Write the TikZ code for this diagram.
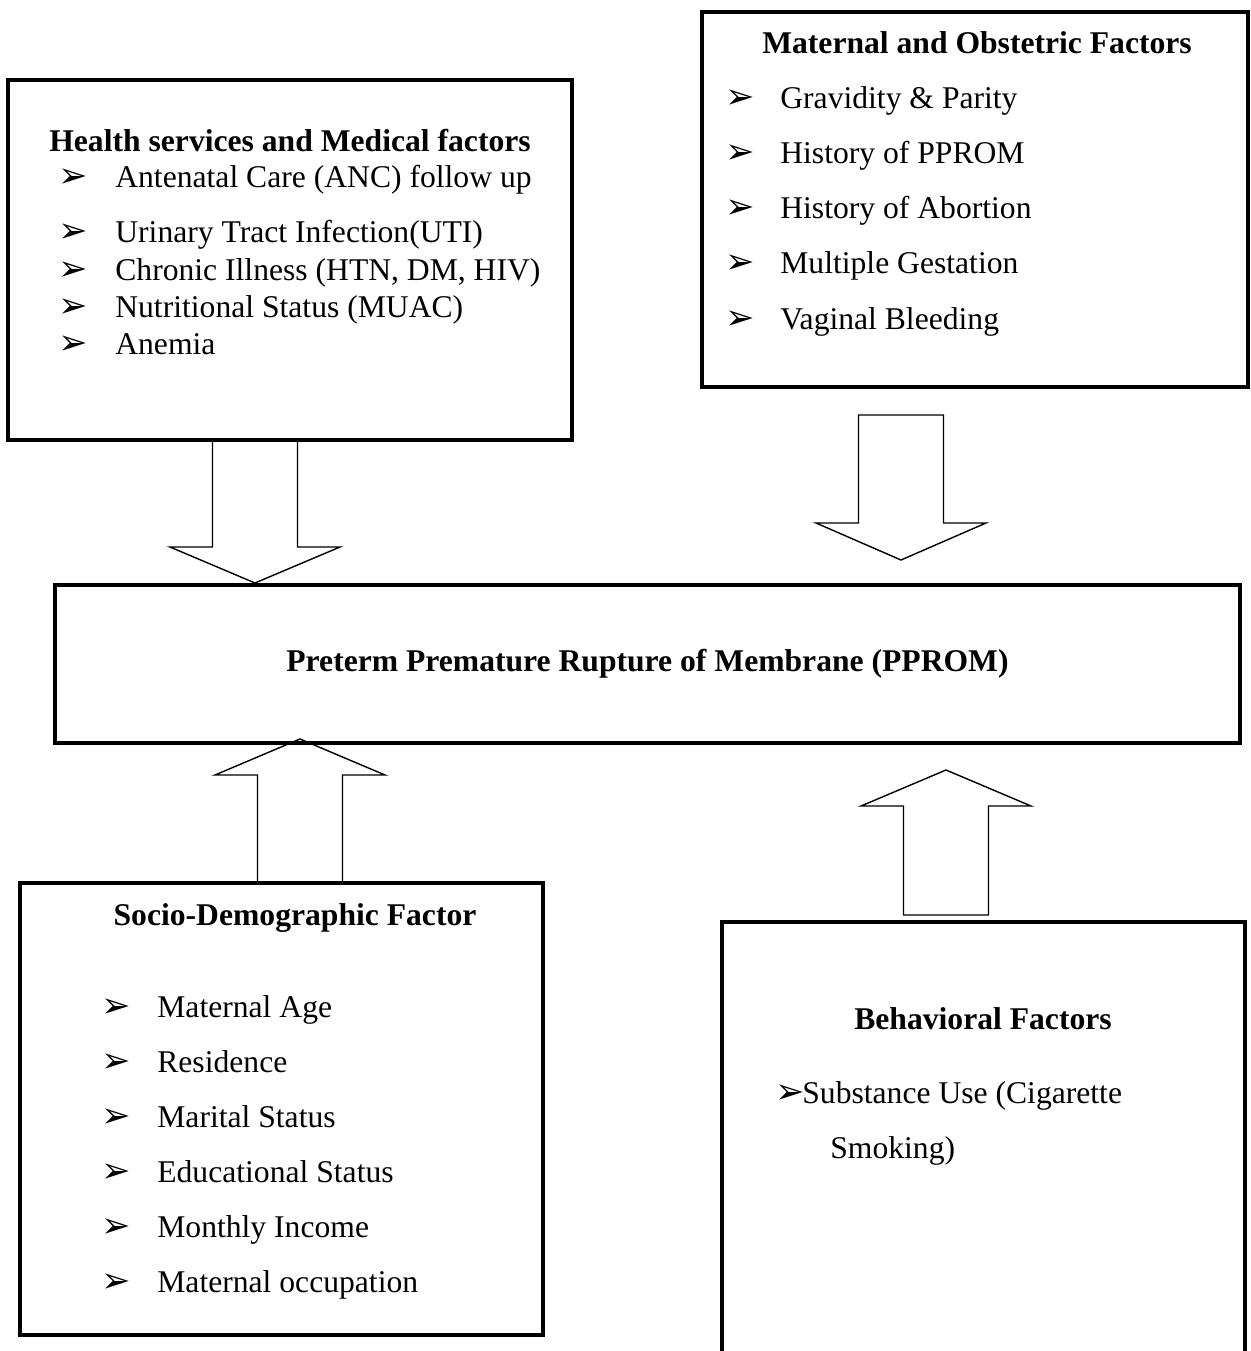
\documentclass[tikz,border=0pt]{standalone}
\usepackage{fontspec}
\setmainfont{Liberation Serif}
\newfontfamily\dingfont{DejaVu Sans}
\usepackage{tikz}
\usetikzlibrary{positioning}
\newcommand{\fnt}{\fontsize{18}{22}\selectfont}
\newcommand{\bul}{{\dingfont\fontsize{20}{20}\selectfont ➢}}

\begin{document}
\begin{tikzpicture}[x=0.02cm, y=-0.02cm,
    box/.style={draw, line width=2.3pt, inner sep=0pt},
    head/.style={anchor=base, inner sep=0pt, font=\fnt\bfseries},
    item/.style={anchor=base west, inner sep=0pt, font=\fnt},
    bulnode/.style={anchor=base west, inner sep=0pt},
    blockarrow/.style={draw, line width=0.8pt, line join=miter}]
    \useasboundingbox (0,0) rectangle (1250,1351);

    % boxes
    \node[box, minimum width=11.28cm, minimum height=7.2cm] (health) at (290,260) {};
    \node[box, minimum width=10.92cm, minimum height=7.5cm] (maternal) at (975,199.5) {};
    \node[box, minimum width=23.7cm, minimum height=3.16cm] (pprom) at (647.5,664)
      {\fnt\bfseries Preterm Premature Rupture of Membrane (PPROM)};
    \node[box, minimum width=10.46cm, minimum height=9.04cm] (socio) at (281.5,1109) {};
    \node[box, minimum width=10.46cm, minimum height=8.86cm] (behav) at (983.5,1143.5) {};

    % headings
    \node[head] (healthT) at (290,152) {Health services and Medical factors};
    \node[head] (maternalT) at (977,54) {Maternal and Obstetric Factors};
    \node[head] (socioT) at (295,925) {Socio-Demographic Factor};
    \node[head] (behavT) at (983,1029) {Behavioral Factors};

    % lists
    \foreach \y/\t [count=\i] in {188/Antenatal Care (ANC) follow up, 243/Urinary Tract Infection(UTI),
        281/{Chronic Illness (HTN, DM, HIV)}, 317/Nutritional Status (MUAC), 354/Anemia} {
      \node[bulnode] (hb\i) at (58,\y) {\bul};
      \node[item] (h\i) at (115,\y) {\t};
    }
    \foreach \t [count=\i] in {Gravidity \& Parity, History of PPROM, History of Abortion,
        Multiple Gestation, Vaginal Bleeding} {
      \node[bulnode] (mb\i) at (725,{54+55*\i}) {\bul};
      \node[item] (m\i) at (780,{54+55*\i}) {\t};
    }
    \foreach \t [count=\i] in {Maternal Age, Residence, Marital Status, Educational Status,
        Monthly Income, Maternal occupation} {
      \node[bulnode] (sb\i) at (101,{962+55*\i}) {\bul};
      \node[item] (s\i) at (157,{962+55*\i}) {\t};
    }
    \node[bulnode] (bb1) at (775,1103) {\bul};
    \node[item] (b1) at (802,1103) {Substance Use (Cigarette};
    \node[item] (b2) at (830,1158) {Smoking)};

    % block arrows
    \coordinate (tipA) at (255,0 |- pprom.north);
    \coordinate (tipB) at (901,560);
    \coordinate (tipC) at (300,739);
    \coordinate (tipD) at (946,770);
    \foreach \tip/\h/\s/\r in {tipA/-36/-107/107, tipB/-37/-108/108, tipC/36/107/-107, tipD/36/109/-109} {
      \draw[blockarrow] (\tip) -- ++(-85,\h) -- ++(42.5,0) -- ++(0,\s) -- ++(85,0)
        -- ++(0,\r) -- ++(42.5,0) -- cycle;
    }
  \end{tikzpicture}
\end{document}
